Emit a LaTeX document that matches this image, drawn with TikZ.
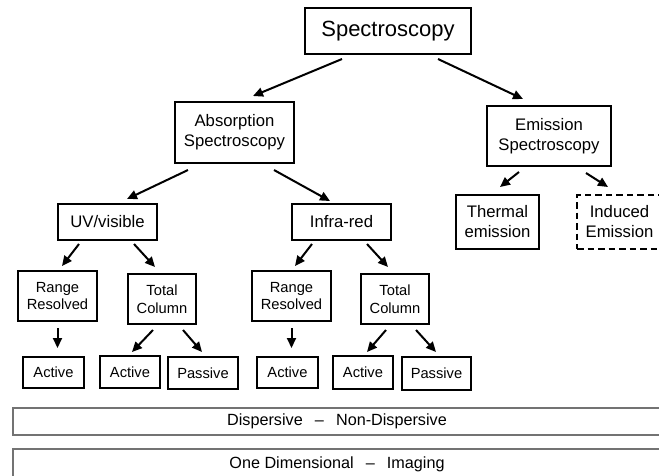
\documentclass[tikz,border=0pt]{standalone}
\usepackage{fontspec}
\setmainfont{Liberation Sans}
\usetikzlibrary{arrows.meta}
\begin{document}
\begin{tikzpicture}[x=1pt,y=-1pt,
 box/.style={draw,line width=2pt,inner sep=0pt,align=center},
 dbox/.style={box,dash pattern=on 6.5pt off 4pt},
 arr/.style={-{Triangle[length=10pt,width=9pt]},line width=2pt},
 fbig/.style={font=\fontsize{22}{26}\selectfont},
 fmid/.style={font=\fontsize{16.7}{20}\selectfont},
 fsm/.style={font=\fontsize{14.7}{17.5}\selectfont},
 fbar/.style={font=\fontsize{16.2}{19}\selectfont},
 bar/.style={draw=black!55,line width=1.5pt,inner sep=0pt,fbar}
]
\useasboundingbox (0,0) rectangle (659,475);
\clip (0,0) rectangle (659,475);
% level 0
\node[box,fbig,minimum width=166pt,minimum height=46pt] (spec) at (388,31) {Spectroscopy};
% level 1
\node[box,fmid,minimum width=119pt,minimum height=61pt] (abs) at (234.5,132.5) {Absorption\\Spectroscopy};
\node[box,fmid,minimum width=124pt,minimum height=60pt] (em) at (549,136) {Emission\\Spectroscopy};
% level 2
\node[box,fmid,minimum width=99pt,minimum height=36pt] (uv) at (107.5,222) {UV/visible};
\node[box,fmid,minimum width=99pt,minimum height=36pt] (ir) at (341.5,222) {Infra-red};
\node[box,fmid,minimum width=83pt,minimum height=54pt] (th) at (497.5,222) {Thermal\\emission};
\node[dbox,fmid,minimum width=85pt,minimum height=54pt] (ind) at (619.5,222) {Induced\\Emission};
% level 3
\node[box,fsm,minimum width=79pt,minimum height=50pt] (rr1) at (57.5,296) {Range\\Resolved};
\node[box,fsm,minimum width=68pt,minimum height=50pt] (tc1) at (162,299) {Total\\Column};
\node[box,fsm,minimum width=79pt,minimum height=50pt] (rr2) at (291.5,296) {Range\\Resolved};
\node[box,fsm,minimum width=68pt,minimum height=50pt] (tc2) at (395,299) {Total\\Column};
% level 4
\node[box,fsm,minimum width=61pt,minimum height=31pt] (a1) at (53.5,372.5) {Active};
\node[box,fsm,minimum width=60pt,minimum height=32pt] (a2) at (130,372) {Active};
\node[box,fsm,minimum width=70pt,minimum height=32pt] (p1) at (203,373) {Passive};
\node[box,fsm,minimum width=61pt,minimum height=31pt] (a3) at (287.5,372.5) {Active};
\node[box,fsm,minimum width=60pt,minimum height=33pt] (a4) at (363,372.5) {Active};
\node[box,fsm,minimum width=69pt,minimum height=33pt] (p2) at (436.5,373.5) {Passive};
% bars
\node[bar,minimum width=648pt,minimum height=27pt] (disp) at (337,421.5) {Dispersive\hspace{0.75em}–\hspace{0.75em}Non-Dispersive};
\node[bar,minimum width=648pt,minimum height=30pt] (dim) at (337,464) {One Dimensional\hspace{0.75em}–\hspace{0.75em}Imaging};
% arrows
\draw[arr] ([shift={(-46,4)}]spec.south) -- ([shift={(18.5,-5)}]abs.north);
\draw[arr] ([shift={(50,4)}]spec.south) -- ([shift={(-26,-6)}]em.north);
\draw[arr] ([shift={(-46.5,6)}]abs.south) -- ([shift={(19.5,-4)}]uv.north);
\draw[arr] ([shift={(39.5,6)}]abs.south) -- ([shift={(-11.5,-2)}]ir.north);
\draw[arr] ([shift={(-30,5)}]em.south) -- ([shift={(2.5,-7)}]th.north);
\draw[arr] ([shift={(37,6)}]em.south) -- ([shift={(-11.5,-7)}]ind.north);
\draw[arr] ([shift={(-28.5,3)}]uv.south) -- ([shift={(4.5,-4)}]rr1.north);
\draw[arr] ([shift={(26.5,3)}]uv.south) -- ([shift={(-7,-6)}]tc1.north);
\draw[arr] ([shift={(-29.5,3)}]ir.south) -- ([shift={(3.5,-4)}]rr2.north);
\draw[arr] ([shift={(25.5,3)}]ir.south) -- ([shift={(-7,-6)}]tc2.north);
\draw[arr] ([shift={(0,6)}]rr1.south) -- ([shift={(0,-8)}]rr1.south |- a1.north);
\draw[arr] ([shift={(-9,5)}]tc1.south) -- ([shift={(2,-3)}]a2.north);
\draw[arr] ([shift={(21,5)}]tc1.south) -- ([shift={(-1,-4)}]p1.north);
\draw[arr] ([shift={(0,6)}]rr2.south) -- ([shift={(0,-8)}]rr2.south |- a3.north);
\draw[arr] ([shift={(-9,5)}]tc2.south) -- ([shift={(4,-3)}]a4.north);
\draw[arr] ([shift={(21,5)}]tc2.south) -- ([shift={(-0.5,-4)}]p2.north);
\end{tikzpicture}
\end{document}
